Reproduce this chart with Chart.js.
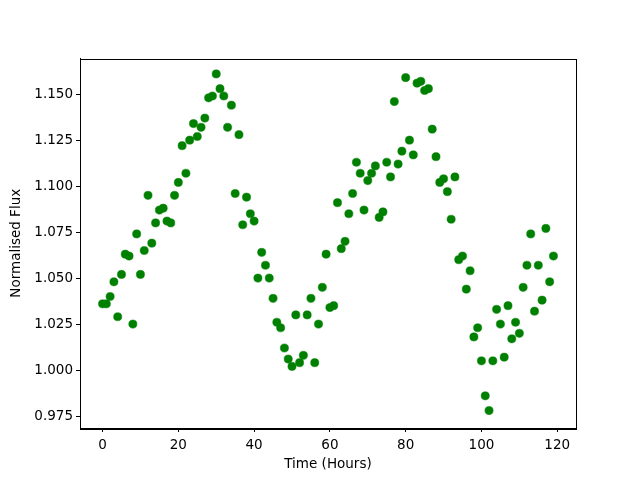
<!DOCTYPE html>
<html>
<head>
<meta charset="utf-8">
<script src="https://cdn.jsdelivr.net/npm/chart.js@4/dist/chart.umd.min.js"></script>
<style>
  html, body { margin: 0; padding: 0; background: #fff; }
  #wrap { width: 640px; height: 480px; }
</style>
</head>
<body>
<div id="wrap"><canvas id="fluxChart" width="640" height="480"></canvas></div>
<script>
// time of each measurement (hours)
var hours = [
  0, 1, 2, 3, 4, 5, 6, 7, 8, 9, 10, 11, 12, 13, 14, 15, 16, 17, 18, 19,
  20, 21, 22, 23, 24, 25, 26, 27, 28, 29, 30, 31, 32, 33, 34, 35, 36, 37, 38, 39,
  40, 41, 42, 43, 44, 45, 46, 47, 48, 49, 50, 51, 52, 53, 54, 55, 56, 57, 58, 59,
  60, 61, 62, 63, 64, 65, 66, 67, 68, 69, 70, 71, 72, 73, 74, 75, 76, 77, 78, 79,
  80, 81, 82, 83, 84, 85, 86, 87, 88, 89, 90, 91, 92, 93, 94, 95, 96, 97, 98, 99,
  100, 101, 102, 103, 104, 105, 106, 107, 108, 109, 110, 111, 112, 113, 114, 115, 116, 117, 118, 119
];

// normalised flux
var flux = [
  1.036, 1.036, 1.040, 1.048, 1.029, 1.052, 1.063, 1.062, 1.025, 1.074,
  1.052, 1.065, 1.095, 1.069, 1.080, 1.087, 1.088, 1.081, 1.080, 1.095,
  1.102, 1.122, 1.107, 1.125, 1.134, 1.127, 1.132, 1.137, 1.148, 1.149,
  1.161, 1.153, 1.149, 1.132, 1.144, 1.096, 1.128, 1.079, 1.094, 1.085,
  1.081, 1.050, 1.064, 1.057, 1.050, 1.039, 1.026, 1.023, 1.012, 1.006,
  1.002, 1.030, 1.004, 1.008, 1.030, 1.039, 1.004, 1.025, 1.045, 1.063,
  1.034, 1.035, 1.091, 1.066, 1.070, 1.085, 1.096, 1.113, 1.107, 1.087,
  1.103, 1.107, 1.111, 1.083, 1.086, 1.113, 1.105, 1.146, 1.112, 1.119,
  1.159, 1.125, 1.117, 1.156, 1.157, 1.152, 1.153, 1.131, 1.116, 1.102,
  1.104, 1.097, 1.082, 1.105, 1.060, 1.062, 1.044, 1.054, 1.018, 1.023,
  1.005, 0.986, 0.978, 1.005, 1.033, 1.025, 1.007, 1.035, 1.017, 1.026,
  1.020, 1.045, 1.057, 1.074, 1.032, 1.057, 1.038, 1.077, 1.048, 1.062
];

var xTicks = [0, 20, 40, 60, 80, 100, 120];
var yTicks = [0.975, 1.000, 1.025, 1.050, 1.075, 1.100, 1.125, 1.150];

var points = hours.map(function (h, i) { return { x: h, y: flux[i] }; });

// full box around the plot area, like matplotlib spines
var frame = {
  id: 'frame',
  afterDraw: function (chart) {
    var a = chart.chartArea, c = chart.ctx;
    c.save();
    c.strokeStyle = '#000';
    c.lineWidth = 1;
    c.strokeRect(Math.round(a.left) + 0.5, Math.round(a.top) + 0.5,
                 Math.round(a.right - a.left), Math.round(a.bottom - a.top));
    c.restore();
  }
};

var font = { family: '"DejaVu Sans", sans-serif', size: 13.5 };

var ctx = document.getElementById('fluxChart').getContext('2d');
var chart = new Chart(ctx, {
  type: 'scatter',
  data: {
    datasets: [{
      data: points,
      backgroundColor: '#008000',
      borderColor: '#008000',
      pointRadius: 4.1,
      borderWidth: 0.5
    }]
  },
  options: {
    responsive: false,
    animation: false,
    layout: { padding: { top: 58.5, right: 64, left: 0, bottom: 0 } },
    plugins: { legend: { display: false }, tooltip: { enabled: false } },
    scales: {
      x: {
        type: 'linear',
        min: -5.95,
        max: 124.95,
        afterBuildTicks: function (s) { s.ticks = xTicks.map(function (v) { return { value: v }; }); },
        afterFit: function (s) { s.height = 52; },
        grid: { drawOnChartArea: false, drawTicks: true, tickLength: 4, tickColor: '#000' },
        border: { display: true, color: '#000' },
        ticks: { color: '#000', font: font, padding: 5, maxRotation: 0 },
        title: { display: true, text: 'Time (Hours)', color: '#000', font: font, padding: { top: 0, bottom: 7 } }
      },
      y: {
        type: 'linear',
        min: 0.9685,
        max: 1.1694,
        afterBuildTicks: function (s) { s.ticks = yTicks.map(function (v) { return { value: v }; }); },
        afterFit: function (s) { s.width = 80; },
        grid: { drawOnChartArea: false, drawTicks: true, tickLength: 4, tickColor: '#000' },
        border: { display: true, color: '#000' },
        ticks: { color: '#000', font: font, padding: 3, callback: function (v) { return v.toFixed(3); } },
        title: { display: true, text: 'Normalised Flux', color: '#000', font: font, padding: { top: 8.5, bottom: 0 } }
      }
    }
  },
  plugins: [frame]
});
</script>
</body>
</html>
